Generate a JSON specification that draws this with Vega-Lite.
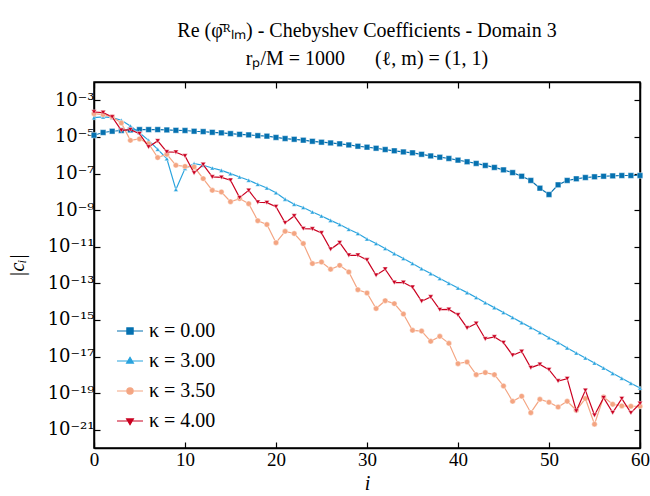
{
  "$schema": "https://vega.github.io/schema/vega-lite/v6.json",
  "autosize": "none",
  "width": 546,
  "height": 366,
  "padding": {"left": 94, "top": 82, "right": 10, "bottom": 48},
  "background": "white",
  "config": {
    "view": {"stroke": "black", "strokeWidth": 1.5},
    "font": "Liberation Serif",
    "axis": {"grid": false, "domainColor": "black", "domainWidth": 1.5, "tickColor": "black", "tickWidth": 1.2, "labelFont": "Liberation Serif", "labelFontSize": 19, "labelColor": "black", "titleFont": "Liberation Serif", "titleFontSize": 20, "titleFontWeight": "normal", "titleColor": "black"}
  },
  "title": {
    "text": ["Re (φ̄ᴿₗₘ) - Chebyshev Coefficients - Domain 3", "rₚ/M = 1000\u2003\u2002(ℓ, m) = (1, 1)"],
    "font": "Liberation Serif",
    "fontSize": 20,
    "fontWeight": "normal",
    "color": "black",
    "anchor": "middle",
    "frame": "group",
    "offset": 12,
    "lineHeight": 28
  },
  "data": {"values": [
    {"i":0,"k":"κ = 0.00","c":1.23e-5},{"i":1,"k":"κ = 0.00","c":1.74e-5},{"i":2,"k":"κ = 0.00","c":2.04e-5},{"i":3,"k":"κ = 0.00","c":2.24e-5},{"i":4,"k":"κ = 0.00","c":2.40e-5},{"i":5,"k":"κ = 0.00","c":2.51e-5},{"i":6,"k":"κ = 0.00","c":2.51e-5},{"i":7,"k":"κ = 0.00","c":2.51e-5},{"i":8,"k":"κ = 0.00","c":2.40e-5},{"i":9,"k":"κ = 0.00","c":2.29e-5},
    {"i":10,"k":"κ = 0.00","c":2.24e-5},{"i":11,"k":"κ = 0.00","c":2.04e-5},{"i":12,"k":"κ = 0.00","c":1.95e-5},{"i":13,"k":"κ = 0.00","c":1.78e-5},{"i":14,"k":"κ = 0.00","c":1.66e-5},{"i":15,"k":"κ = 0.00","c":1.51e-5},{"i":16,"k":"κ = 0.00","c":1.38e-5},{"i":17,"k":"κ = 0.00","c":1.29e-5},{"i":18,"k":"κ = 0.00","c":1.17e-5},{"i":19,"k":"κ = 0.00","c":1.10e-5},
    {"i":20,"k":"κ = 0.00","c":9.33e-6},{"i":21,"k":"κ = 0.00","c":8.13e-6},{"i":22,"k":"κ = 0.00","c":7.41e-6},{"i":23,"k":"κ = 0.00","c":6.61e-6},{"i":24,"k":"κ = 0.00","c":5.75e-6},{"i":25,"k":"κ = 0.00","c":5.13e-6},{"i":26,"k":"κ = 0.00","c":4.68e-6},{"i":27,"k":"κ = 0.00","c":4.17e-6},{"i":28,"k":"κ = 0.00","c":3.63e-6},{"i":29,"k":"κ = 0.00","c":3.09e-6},
    {"i":30,"k":"κ = 0.00","c":2.75e-6},{"i":31,"k":"κ = 0.00","c":2.40e-6},{"i":32,"k":"κ = 0.00","c":2.04e-6},{"i":33,"k":"κ = 0.00","c":1.74e-6},{"i":34,"k":"κ = 0.00","c":1.51e-6},{"i":35,"k":"κ = 0.00","c":1.35e-6},{"i":36,"k":"κ = 0.00","c":1.12e-6},{"i":37,"k":"κ = 0.00","c":9.12e-7},{"i":38,"k":"κ = 0.00","c":7.76e-7},{"i":39,"k":"κ = 0.00","c":6.61e-7},
    {"i":40,"k":"κ = 0.00","c":5.37e-7},{"i":41,"k":"κ = 0.00","c":4.37e-7},{"i":42,"k":"κ = 0.00","c":3.55e-7},{"i":43,"k":"κ = 0.00","c":2.75e-7},{"i":44,"k":"κ = 0.00","c":2.14e-7},{"i":45,"k":"κ = 0.00","c":1.58e-7},{"i":46,"k":"κ = 0.00","c":1.12e-7},{"i":47,"k":"κ = 0.00","c":7.08e-8},{"i":48,"k":"κ = 0.00","c":4.17e-8},{"i":49,"k":"κ = 0.00","c":1.58e-8},
    {"i":50,"k":"κ = 0.00","c":7.08e-9},{"i":51,"k":"κ = 0.00","c":2.40e-8},{"i":52,"k":"κ = 0.00","c":4.17e-8},{"i":53,"k":"κ = 0.00","c":5.13e-8},{"i":54,"k":"κ = 0.00","c":6.03e-8},{"i":55,"k":"κ = 0.00","c":6.61e-8},{"i":56,"k":"κ = 0.00","c":7.08e-8},{"i":57,"k":"κ = 0.00","c":7.41e-8},{"i":58,"k":"κ = 0.00","c":7.76e-8},{"i":59,"k":"κ = 0.00","c":7.76e-8},{"i":60,"k":"κ = 0.00","c":7.76e-8},

    {"i":0,"k":"κ = 3.00","c":1.12e-4},{"i":1,"k":"κ = 3.00","c":1.23e-4},{"i":2,"k":"κ = 3.00","c":1.12e-4},{"i":3,"k":"κ = 3.00","c":8.13e-5},{"i":4,"k":"κ = 3.00","c":3.98e-5},{"i":5,"k":"κ = 3.00","c":1.70e-5},{"i":6,"k":"κ = 3.00","c":6.46e-6},{"i":7,"k":"κ = 3.00","c":2.09e-6},{"i":8,"k":"κ = 3.00","c":6.46e-7},{"i":9,"k":"κ = 3.00","c":1.32e-8},
    {"i":10,"k":"κ = 3.00","c":1.86e-7},{"i":11,"k":"κ = 3.00","c":3.47e-7},{"i":12,"k":"κ = 3.00","c":2.82e-7},{"i":13,"k":"κ = 3.00","c":2.00e-7},{"i":14,"k":"κ = 3.00","c":1.48e-7},{"i":15,"k":"κ = 3.00","c":9.77e-8},{"i":16,"k":"κ = 3.00","c":6.46e-8},{"i":17,"k":"κ = 3.00","c":4.27e-8},{"i":18,"k":"κ = 3.00","c":2.57e-8},{"i":19,"k":"κ = 3.00","c":1.62e-8},
    {"i":20,"k":"κ = 3.00","c":8.91e-9},{"i":21,"k":"κ = 3.00","c":3.98e-9},{"i":22,"k":"κ = 3.00","c":2.09e-9},{"i":23,"k":"κ = 3.00","c":1.38e-9},{"i":24,"k":"κ = 3.00","c":7.94e-10},{"i":25,"k":"κ = 3.00","c":4.79e-10},{"i":26,"k":"κ = 3.00","c":2.75e-10},{"i":27,"k":"κ = 3.00","c":1.62e-10},{"i":28,"k":"κ = 3.00","c":8.91e-11},{"i":29,"k":"κ = 3.00","c":5.25e-11},
    {"i":30,"k":"κ = 3.00","c":2.63e-11},{"i":31,"k":"κ = 3.00","c":1.48e-11},{"i":32,"k":"κ = 3.00","c":7.94e-12},{"i":33,"k":"κ = 3.00","c":4.17e-12},{"i":34,"k":"κ = 3.00","c":2.24e-12},{"i":35,"k":"κ = 3.00","c":1.20e-12},{"i":36,"k":"κ = 3.00","c":6.31e-13},{"i":37,"k":"κ = 3.00","c":3.39e-13},{"i":38,"k":"κ = 3.00","c":1.82e-13},{"i":39,"k":"κ = 3.00","c":1.00e-13},
    {"i":40,"k":"κ = 3.00","c":5.50e-14},{"i":41,"k":"κ = 3.00","c":3.09e-14},{"i":42,"k":"κ = 3.00","c":1.66e-14},{"i":43,"k":"κ = 3.00","c":8.71e-15},{"i":44,"k":"κ = 3.00","c":4.68e-15},{"i":45,"k":"κ = 3.00","c":2.51e-15},{"i":46,"k":"κ = 3.00","c":1.35e-15},{"i":47,"k":"κ = 3.00","c":7.08e-16},{"i":48,"k":"κ = 3.00","c":3.80e-16},{"i":49,"k":"κ = 3.00","c":2.04e-16},
    {"i":50,"k":"κ = 3.00","c":1.07e-16},{"i":51,"k":"κ = 3.00","c":5.75e-17},{"i":52,"k":"κ = 3.00","c":2.95e-17},{"i":53,"k":"κ = 3.00","c":1.55e-17},{"i":54,"k":"κ = 3.00","c":8.32e-18},{"i":55,"k":"κ = 3.00","c":4.37e-18},{"i":56,"k":"κ = 3.00","c":2.34e-18},{"i":57,"k":"κ = 3.00","c":1.20e-18},{"i":58,"k":"κ = 3.00","c":6.46e-19},{"i":59,"k":"κ = 3.00","c":3.47e-19},{"i":60,"k":"κ = 3.00","c":1.91e-19},

    {"i":0,"k":"κ = 3.50","c":1.86e-4},{"i":1,"k":"κ = 3.50","c":1.66e-4},{"i":2,"k":"κ = 3.50","c":1.23e-4},{"i":3,"k":"κ = 3.50","c":5.75e-5},{"i":4,"k":"κ = 3.50","c":6.46e-6},{"i":5,"k":"κ = 3.50","c":7.76e-6},{"i":6,"k":"κ = 3.50","c":4.27e-6},{"i":7,"k":"κ = 3.50","c":7.41e-7},{"i":8,"k":"κ = 3.50","c":1.12e-6},{"i":9,"k":"κ = 3.50","c":2.82e-7},
    {"i":10,"k":"κ = 3.50","c":2.45e-7},{"i":11,"k":"κ = 3.50","c":2.29e-7},{"i":12,"k":"κ = 3.50","c":5.25e-8},{"i":13,"k":"κ = 3.50","c":1.20e-8},{"i":14,"k":"κ = 3.50","c":9.77e-9},{"i":15,"k":"κ = 3.50","c":2.88e-9},{"i":16,"k":"κ = 3.50","c":4.27e-9},{"i":17,"k":"κ = 3.50","c":2.24e-9},{"i":18,"k":"κ = 3.50","c":2.63e-10},{"i":19,"k":"κ = 3.50","c":1.62e-10},
    {"i":20,"k":"κ = 3.50","c":1.66e-11},{"i":21,"k":"κ = 3.50","c":6.92e-11},{"i":22,"k":"κ = 3.50","c":5.25e-11},{"i":23,"k":"κ = 3.50","c":1.48e-11},{"i":24,"k":"κ = 3.50","c":1.20e-12},{"i":25,"k":"κ = 3.50","c":1.45e-12},{"i":26,"k":"κ = 3.50","c":5.89e-13},{"i":27,"k":"κ = 3.50","c":9.55e-13},{"i":28,"k":"κ = 3.50","c":4.17e-13},{"i":29,"k":"κ = 3.50","c":4.47e-14},
    {"i":30,"k":"κ = 3.50","c":2.95e-14},{"i":31,"k":"κ = 3.50","c":4.17e-15},{"i":32,"k":"κ = 3.50","c":1.12e-14},{"i":33,"k":"κ = 3.50","c":7.76e-15},{"i":34,"k":"κ = 3.50","c":2.09e-15},{"i":35,"k":"κ = 3.50","c":2.69e-16},{"i":36,"k":"κ = 3.50","c":2.45e-16},{"i":37,"k":"κ = 3.50","c":6.76e-17},{"i":38,"k":"κ = 3.50","c":1.26e-16},{"i":39,"k":"κ = 3.50","c":5.25e-17},
    {"i":40,"k":"κ = 3.50","c":4.07e-18},{"i":41,"k":"κ = 3.50","c":5.01e-18},{"i":42,"k":"κ = 3.50","c":1.02e-18},{"i":43,"k":"κ = 3.50","c":1.32e-18},{"i":44,"k":"κ = 3.50","c":1.02e-18},{"i":45,"k":"κ = 3.50","c":2.45e-19},{"i":46,"k":"κ = 3.50","c":3.55e-20},{"i":47,"k":"κ = 3.50","c":6.76e-20},{"i":48,"k":"κ = 3.50","c":8.51e-21},{"i":49,"k":"κ = 3.50","c":4.57e-20},
    {"i":50,"k":"κ = 3.50","c":3.16e-20},{"i":51,"k":"κ = 3.50","c":1.74e-20},{"i":52,"k":"κ = 3.50","c":3.55e-20},{"i":53,"k":"κ = 3.50","c":1.15e-20},{"i":54,"k":"κ = 3.50","c":5.01e-20},{"i":55,"k":"κ = 3.50","c":2.00e-21},{"i":56,"k":"κ = 3.50","c":6.17e-20},{"i":57,"k":"κ = 3.50","c":2.45e-20},{"i":58,"k":"κ = 3.50","c":2.00e-20},{"i":59,"k":"κ = 3.50","c":1.91e-20},{"i":60,"k":"κ = 3.50","c":1.91e-20},

    {"i":0,"k":"κ = 4.00","c":2.29e-4},{"i":1,"k":"κ = 4.00","c":2.14e-4},{"i":2,"k":"κ = 4.00","c":1.23e-4},{"i":3,"k":"κ = 4.00","c":2.29e-5},{"i":4,"k":"κ = 4.00","c":2.51e-5},{"i":5,"k":"κ = 4.00","c":1.51e-5},{"i":6,"k":"κ = 4.00","c":2.82e-6},{"i":7,"k":"κ = 4.00","c":6.03e-6},{"i":8,"k":"κ = 4.00","c":1.51e-6},{"i":9,"k":"κ = 4.00","c":1.45e-6},
    {"i":10,"k":"κ = 4.00","c":9.12e-7},{"i":11,"k":"κ = 4.00","c":1.07e-7},{"i":12,"k":"κ = 4.00","c":3.09e-7},{"i":13,"k":"κ = 4.00","c":6.46e-8},{"i":14,"k":"κ = 4.00","c":6.17e-8},{"i":15,"k":"κ = 4.00","c":4.27e-8},{"i":16,"k":"κ = 4.00","c":4.79e-9},{"i":17,"k":"κ = 4.00","c":1.20e-8},{"i":18,"k":"κ = 4.00","c":2.69e-9},{"i":19,"k":"κ = 4.00","c":2.57e-9},
    {"i":20,"k":"κ = 4.00","c":1.55e-9},{"i":21,"k":"κ = 4.00","c":2.00e-10},{"i":22,"k":"κ = 4.00","c":4.79e-10},{"i":23,"k":"κ = 4.00","c":9.77e-11},{"i":24,"k":"κ = 4.00","c":9.33e-11},{"i":25,"k":"κ = 4.00","c":5.62e-11},{"i":26,"k":"κ = 4.00","c":7.24e-12},{"i":27,"k":"κ = 4.00","c":1.66e-11},{"i":28,"k":"κ = 4.00","c":3.39e-12},{"i":29,"k":"κ = 4.00","c":3.39e-12},
    {"i":30,"k":"κ = 4.00","c":1.86e-12},{"i":31,"k":"κ = 4.00","c":2.75e-13},{"i":32,"k":"κ = 4.00","c":5.89e-13},{"i":33,"k":"κ = 4.00","c":1.10e-13},{"i":34,"k":"κ = 4.00","c":1.10e-13},{"i":35,"k":"κ = 4.00","c":6.03e-14},{"i":36,"k":"κ = 4.00","c":1.05e-14},{"i":37,"k":"κ = 4.00","c":1.78e-14},{"i":38,"k":"κ = 4.00","c":3.63e-15},{"i":39,"k":"κ = 4.00","c":3.72e-15},
    {"i":40,"k":"κ = 4.00","c":1.86e-15},{"i":41,"k":"κ = 4.00","c":3.63e-16},{"i":42,"k":"κ = 4.00","c":6.31e-16},{"i":43,"k":"κ = 4.00","c":9.12e-17},{"i":44,"k":"κ = 4.00","c":1.17e-16},{"i":45,"k":"κ = 4.00","c":5.75e-17},{"i":46,"k":"κ = 4.00","c":1.17e-17},{"i":47,"k":"κ = 4.00","c":1.86e-17},{"i":48,"k":"κ = 4.00","c":2.45e-18},{"i":49,"k":"κ = 4.00","c":3.72e-18},
    {"i":50,"k":"κ = 4.00","c":1.91e-18},{"i":51,"k":"κ = 4.00","c":4.57e-19},{"i":52,"k":"κ = 4.00","c":6.17e-19},{"i":53,"k":"κ = 4.00","c":1.05e-20},{"i":54,"k":"κ = 4.00","c":1.41e-19},{"i":55,"k":"κ = 4.00","c":6.17e-21},{"i":56,"k":"κ = 4.00","c":5.62e-20},{"i":57,"k":"κ = 4.00","c":8.51e-21},{"i":58,"k":"κ = 4.00","c":5.01e-20},{"i":59,"k":"κ = 4.00","c":8.32e-21},{"i":60,"k":"κ = 4.00","c":2.69e-20}
  ]},
  "encoding": {
    "x": {"field": "i", "type": "quantitative", "scale": {"domain": [0, 60], "nice": false, "zero": false}, "axis": null},
    "y": {"field": "c", "type": "quantitative", "scale": {"type": "log", "domain": [1e-22, 1e-2], "nice": false}, "axis": null},
    "color": {"field": "k", "type": "nominal",
              "scale": {"domain": ["κ = 0.00", "κ = 3.00", "κ = 3.50", "κ = 4.00"], "range": ["#0571b0", "#29a3de", "#f4a582", "#ca0020"]}}
  },
  "layer": [
    {
      "transform": [{"filter": "datum.k === 'κ = 0.00'"}],
      "mark": {"type": "line", "strokeWidth": 1.2, "point": {"filled": true, "shape": "square", "size": 32, "stroke": "white", "strokeOpacity": 0.45, "strokeWidth": 1}},
      "encoding": {
        "x": {"field": "i", "type": "quantitative",
              "axis": {"orient": "bottom", "title": "i", "titleFontStyle": "italic", "values": [0, 10, 20, 30, 40, 50, 60], "tickSize": -6, "labelPadding": 8, "titlePadding": 4, "labelFlush": false}},
        "y": {"field": "c", "type": "quantitative",
              "axis": {"orient": "left", "title": "|cᵢ|", "titleFontStyle": "italic", "labelFont": "DejaVu Serif", "labelFontSize": 18, "values": [1e-21, 1e-19, 1e-17, 1e-15, 1e-13, 1e-11, 1e-9, 1e-7, 1e-5, 1e-3], "tickSize": -6, "labelPadding": 6, "titlePadding": 20,
                       "labelExpr": "'10⁻' + (-round(log(datum.value)/LN10) >= 10 ? substring('⁰¹²³⁴⁵⁶⁷⁸⁹', floor(-round(log(datum.value)/LN10)/10), floor(-round(log(datum.value)/LN10)/10)+1) : '') + substring('⁰¹²³⁴⁵⁶⁷⁸⁹', (-round(log(datum.value)/LN10))%10, (-round(log(datum.value)/LN10))%10+1)"}},
        "color": {"field": "k", "type": "nominal",
                  "legend": {"orient": "none", "legendX": 22, "legendY": 235, "title": null, "labelFont": "Liberation Serif", "labelFontSize": 20, "labelColor": "black", "symbolSize": 676, "rowPadding": 6, "labelOffset": 5, "padding": 0,
                             "encode": {"symbols": {"update": {
                               "shape": {"signal": "datum.value === 'κ = 0.00' ? 'M-1,0H1M-0.24,-0.24H0.24V0.24H-0.24Z' : datum.value === 'κ = 3.00' ? 'M-1,0H1M0,-0.28L0.26,0.16H-0.26Z' : datum.value === 'κ = 3.50' ? 'M-1,0H1M0.24,0A0.24,0.24 0 1,1 -0.24,0A0.24,0.24 0 1,1 0.24,0Z' : 'M-1,0H1M0,0.28L0.26,-0.16H-0.26Z'"},
                               "fill": {"signal": "scale('color', datum.value)"},
                               "stroke": {"signal": "scale('color', datum.value)"},
                               "strokeWidth": {"value": 1.2},
                               "opacity": {"value": 1},
                               "fillOpacity": {"value": 1},
                               "strokeOpacity": {"value": 1}
                             }}}}}
      }
    },
    {
      "transform": [{"filter": "datum.k === 'κ = 3.00'"}],
      "mark": {"type": "line", "strokeWidth": 1.2, "point": {"filled": true, "shape": "triangle-up", "size": 22, "stroke": "white", "strokeOpacity": 0.45, "strokeWidth": 1}}
    },
    {
      "transform": [{"filter": "datum.k === 'κ = 3.50'"}],
      "mark": {"type": "line", "strokeWidth": 1.2, "point": {"filled": true, "shape": "circle", "size": 30, "stroke": "white", "strokeOpacity": 0.45, "strokeWidth": 1}}
    },
    {
      "transform": [{"filter": "datum.k === 'κ = 4.00'"}],
      "mark": {"type": "line", "strokeWidth": 1.2, "point": {"filled": true, "shape": "triangle-down", "size": 26, "stroke": "white", "strokeOpacity": 0.45, "strokeWidth": 1}}
    },
    {
      "mark": {"type": "point", "opacity": 0},
      "encoding": {
        "x": {"field": "i", "type": "quantitative", "axis": {"orient": "top", "title": null, "labels": false, "values": [0, 10, 20, 30, 40, 50, 60], "tickSize": -6}},
        "y": {"field": "c", "type": "quantitative", "axis": {"orient": "right", "title": null, "labels": false, "values": [1e-21, 1e-19, 1e-17, 1e-15, 1e-13, 1e-11, 1e-9, 1e-7, 1e-5, 1e-3], "tickSize": -6}},
        "color": {"value": "black"}
      }
    }
  ],
  "resolve": {"axis": {"x": "independent", "y": "independent"}}
}
